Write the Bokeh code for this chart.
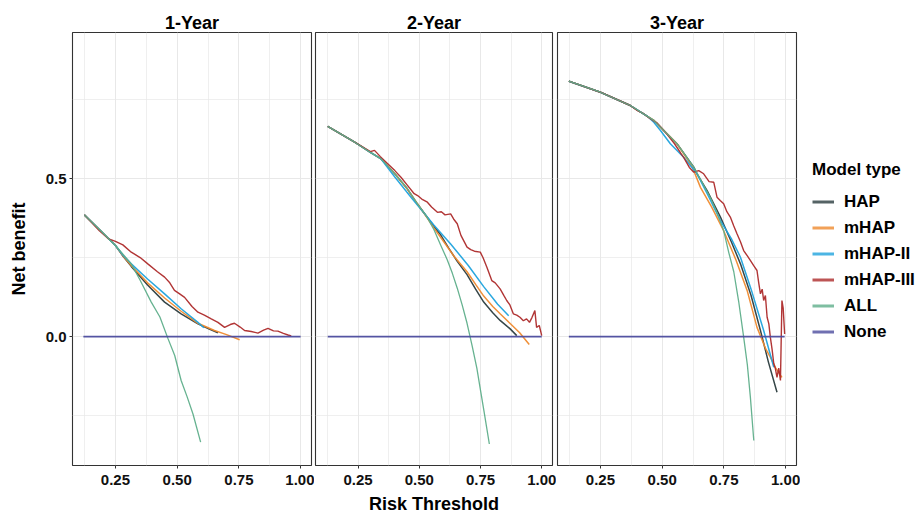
from bokeh.plotting import figure
from bokeh.models import Range1d, FixedTicker, NumeralTickFormatter, Legend, LegendItem
from bokeh.layouts import row
from bokeh.embed import file_html
from bokeh.resources import INLINE

# ---------------- data ----------------
PANEL_TITLES = ["1-Year", "2-Year", "3-Year"]
MODEL_NAMES = ["HAP", "mHAP", "mHAP-II", "mHAP-III", "ALL", "None"]
X_TICKS = [0.25, 0.5, 0.75, 1.0]
X_MINOR = [0.125, 0.375, 0.625, 0.875]
Y_TICKS = [0.0, 0.5]
Y_MINOR = [-0.25, 0.25, 0.75]

# 1-Year
Y1_HAP_X = [0.124, 0.19, 0.25, 0.28, 0.314, 0.38, 0.449, 0.516, 0.584, 0.63, 0.665]
Y1_HAP_Y = [0.385, 0.335, 0.288, 0.255, 0.222, 0.163, 0.109, 0.072, 0.04, 0.024, 0.012]
Y1_MHAP_X = [0.124, 0.19, 0.25, 0.28, 0.314, 0.38, 0.449, 0.516, 0.584, 0.651, 0.70, 0.753]
Y1_MHAP_Y = [0.385, 0.335, 0.288, 0.256, 0.225, 0.17, 0.122, 0.08, 0.042, 0.019, 0.006, -0.01]
Y1_MHAP2_X = [0.124, 0.19, 0.25, 0.28, 0.314, 0.38, 0.449, 0.516, 0.584, 0.608]
Y1_MHAP2_Y = [0.385, 0.335, 0.288, 0.258, 0.23, 0.182, 0.135, 0.088, 0.045, 0.028]
Y1_MHAP3_X = [0.124, 0.185, 0.22, 0.25, 0.28, 0.314, 0.35, 0.381, 0.42, 0.449, 0.47, 0.489,
              0.51, 0.53, 0.56, 0.584, 0.61, 0.638, 0.665, 0.692, 0.715, 0.732, 0.755, 0.773,
              0.80, 0.827, 0.85, 0.868, 0.89, 0.908, 0.93, 0.949, 0.962]
Y1_MHAP3_Y = [0.385, 0.335, 0.31, 0.301, 0.29, 0.267, 0.25, 0.23, 0.205, 0.188, 0.17, 0.146,
              0.135, 0.124, 0.095, 0.077, 0.068, 0.056, 0.045, 0.029, 0.038, 0.042, 0.03, 0.019,
              0.016, 0.011, 0.02, 0.026, 0.018, 0.017, 0.01, 0.005, 0.002]
Y1_ALL_X = [0.124, 0.19, 0.25, 0.314, 0.35, 0.395, 0.43, 0.462, 0.49, 0.516, 0.54, 0.564, 0.595]
Y1_ALL_Y = [0.385, 0.335, 0.288, 0.23, 0.178, 0.109, 0.062, -0.005, -0.06, -0.139, -0.19, -0.245, -0.334]
Y1_NONE_X = [0.12, 1.0]
Y1_NONE_Y = [0.0, 0.0]

# 2-Year
Y2_HAP_X = [0.126, 0.236, 0.30, 0.344, 0.40, 0.45, 0.492, 0.53, 0.56, 0.587, 0.62, 0.655, 0.695,
            0.73, 0.763, 0.80, 0.83, 0.87, 0.898]
Y2_HAP_Y = [0.665, 0.615, 0.583, 0.562, 0.515, 0.468, 0.42, 0.38, 0.348, 0.322, 0.28, 0.238, 0.196,
            0.15, 0.109, 0.075, 0.051, 0.025, 0.003]
Y2_MHAP_X = [0.126, 0.236, 0.30, 0.344, 0.40, 0.45, 0.492, 0.53, 0.56, 0.60, 0.641, 0.695, 0.73,
             0.763, 0.80, 0.83, 0.87, 0.91, 0.949]
Y2_MHAP_Y = [0.665, 0.615, 0.583, 0.562, 0.515, 0.468, 0.42, 0.378, 0.343, 0.3, 0.255, 0.205, 0.165,
             0.128, 0.095, 0.072, 0.042, 0.012, -0.025]
Y2_MHAP2_X = [0.126, 0.236, 0.30, 0.344, 0.40, 0.466, 0.52, 0.56, 0.628, 0.70, 0.763, 0.82, 0.865]
Y2_MHAP2_Y = [0.665, 0.615, 0.583, 0.562, 0.505, 0.441, 0.39, 0.352, 0.293, 0.225, 0.158, 0.102, 0.066]
Y2_MHAP3_X = [0.126, 0.236, 0.30, 0.317, 0.34, 0.371, 0.40, 0.425, 0.45, 0.479, 0.493, 0.51, 0.533,
              0.55, 0.574, 0.59, 0.605, 0.628, 0.64, 0.655, 0.67, 0.695, 0.71, 0.725, 0.749, 0.76,
              0.776, 0.796, 0.81, 0.83, 0.845, 0.857, 0.87, 0.884, 0.898, 0.911, 0.925, 0.938,
              0.95, 0.96, 0.972, 0.979, 0.99, 1.0]
Y2_MHAP3_Y = [0.665, 0.615, 0.585, 0.589, 0.57, 0.547, 0.525, 0.504, 0.48, 0.452, 0.446, 0.435, 0.425,
              0.41, 0.393, 0.395, 0.385, 0.388, 0.372, 0.357, 0.32, 0.283, 0.275, 0.27, 0.267, 0.25,
              0.219, 0.177, 0.17, 0.151, 0.13, 0.114, 0.1, 0.072, 0.068, 0.061, 0.05, 0.056,
              0.045, 0.06, 0.082, 0.029, 0.035, 0.003]
Y2_ALL_X = [0.126, 0.236, 0.30, 0.344, 0.40, 0.45, 0.492, 0.53, 0.56, 0.587, 0.614, 0.635, 0.655,
            0.675, 0.695, 0.716, 0.735, 0.75, 0.765, 0.786]
Y2_ALL_Y = [0.665, 0.615, 0.583, 0.562, 0.515, 0.47, 0.42, 0.38, 0.338, 0.29, 0.243, 0.2, 0.153,
            0.1, 0.042, -0.03, -0.1, -0.17, -0.24, -0.34]
Y2_NONE_X = [0.126, 1.0]
Y2_NONE_Y = [0.0, 0.0]

# 3-Year
Y3_HAP_X = [0.122, 0.25, 0.371, 0.466, 0.56, 0.628, 0.641, 0.682, 0.736, 0.78, 0.817, 0.86, 0.898,
            0.93, 0.965]
Y3_HAP_Y = [0.808, 0.773, 0.731, 0.684, 0.61, 0.536, 0.515, 0.462, 0.378, 0.3, 0.23, 0.13, 0.019,
            -0.08, -0.176]
Y3_MHAP_X = [0.122, 0.25, 0.371, 0.466, 0.56, 0.62, 0.655, 0.70, 0.749, 0.80, 0.844, 0.884, 0.92,
             0.938, 0.96, 0.985]
Y3_MHAP_Y = [0.808, 0.773, 0.731, 0.684, 0.61, 0.54, 0.472, 0.41, 0.335, 0.24, 0.146, 0.029, -0.04,
             -0.065, -0.1, -0.129]
Y3_MHAP2_X = [0.122, 0.25, 0.371, 0.44, 0.466, 0.493, 0.533, 0.587, 0.641, 0.69, 0.736, 0.78, 0.817,
              0.86, 0.911, 0.952]
Y3_MHAP2_Y = [0.808, 0.773, 0.731, 0.697, 0.678, 0.652, 0.61, 0.567, 0.515, 0.44, 0.367, 0.31, 0.251,
              0.15, 0.019, -0.097]
Y3_MHAP3_X = [0.122, 0.25, 0.371, 0.40, 0.425, 0.45, 0.48, 0.52, 0.55, 0.575, 0.587, 0.61, 0.628,
              0.648, 0.668, 0.69, 0.709, 0.722, 0.736, 0.749, 0.762, 0.776, 0.79, 0.803, 0.817,
              0.83, 0.845, 0.857, 0.87, 0.884, 0.891, 0.898, 0.905, 0.911, 0.918, 0.925, 0.932,
              0.938, 0.945, 0.952, 0.958, 0.965, 0.972, 0.979, 0.985, 0.99, 0.996]
Y3_MHAP3_Y = [0.808, 0.773, 0.731, 0.715, 0.705, 0.69, 0.675, 0.64, 0.61, 0.58, 0.567, 0.535, 0.52,
              0.525, 0.515, 0.49, 0.488, 0.441, 0.43, 0.42, 0.395, 0.378, 0.35, 0.325, 0.3,
              0.272, 0.255, 0.241, 0.225, 0.209, 0.17, 0.135, 0.15, 0.114, 0.13, 0.061, 0.04,
              -0.002, -0.04, -0.086, -0.1, -0.129, -0.1, -0.139, 0.114, 0.09, 0.008]
Y3_ALL_X = [0.122, 0.25, 0.371, 0.466, 0.56, 0.628, 0.695, 0.72, 0.749, 0.77, 0.79, 0.81, 0.83,
            0.845, 0.857, 0.871]
Y3_ALL_Y = [0.808, 0.773, 0.731, 0.684, 0.61, 0.536, 0.44, 0.396, 0.335, 0.265, 0.205, 0.11, -0.002,
            -0.09, -0.19, -0.329]
Y3_NONE_X = [0.122, 0.996]
Y3_NONE_Y = [0.0, 0.0]

# ---------------- styling ----------------
COLORS = ["#2b3c3e", "#ef8a2e", "#1fa3dd", "#ad2a2a", "#5eae8a", "#4c4c9e"]
WIDTHS = [1.5, 1.5, 1.5, 1.4, 1.3, 1.8]
FONT = "Liberation Sans"
GRID_COLOR = "#e8e8e8"
FRAME_COLOR = "#333333"
X0, X1 = 0.076, 1.044
YB, YT = -0.408, 0.962
H = 517

panels = [
    [(Y1_HAP_X, Y1_HAP_Y), (Y1_MHAP_X, Y1_MHAP_Y), (Y1_MHAP2_X, Y1_MHAP2_Y),
     (Y1_MHAP3_X, Y1_MHAP3_Y), (Y1_ALL_X, Y1_ALL_Y), (Y1_NONE_X, Y1_NONE_Y)],
    [(Y2_HAP_X, Y2_HAP_Y), (Y2_MHAP_X, Y2_MHAP_Y), (Y2_MHAP2_X, Y2_MHAP2_Y),
     (Y2_MHAP3_X, Y2_MHAP3_Y), (Y2_ALL_X, Y2_ALL_Y), (Y2_NONE_X, Y2_NONE_Y)],
    [(Y3_HAP_X, Y3_HAP_Y), (Y3_MHAP_X, Y3_MHAP_Y), (Y3_MHAP2_X, Y3_MHAP2_Y),
     (Y3_MHAP3_X, Y3_MHAP3_Y), (Y3_ALL_X, Y3_ALL_Y), (Y3_NONE_X, Y3_NONE_Y)],
]

layout_spec = [
    dict(width=314, left=72, right=3, yaxis=True, xlabel=None),
    dict(width=242, left=1, right=4, yaxis=False, xlabel="Risk Threshold"),
    dict(width=244, left=1, right=4, yaxis=False, xlabel=None),
]

figs = []
for i, (title, series, spec) in enumerate(zip(PANEL_TITLES, panels, layout_spec)):
    p = figure(width=spec["width"], height=H,
               x_range=Range1d(X0, X1), y_range=Range1d(YB, YT),
               output_backend="svg", toolbar_location=None,
               min_border_left=spec["left"], min_border_right=spec["right"],
               min_border_top=32, min_border_bottom=52)
    p.title.text = title
    p.title.align = "center"
    p.title.text_font = FONT
    p.title.text_font_size = "18px"
    p.title.text_font_style = "bold"
    p.title.text_color = "#000000"
    p.title.standoff = 0
    p.outline_line_color = FRAME_COLOR
    p.outline_line_width = 1.1
    p.background_fill_color = "white"
    p.border_fill_color = "white"

    xa = p.xaxis[0]
    xa.ticker = FixedTicker(ticks=X_TICKS, minor_ticks=X_MINOR)
    xa.formatter = NumeralTickFormatter(format="0.00")
    xa.axis_line_color = None
    xa.major_tick_line_color = FRAME_COLOR
    xa.major_tick_out = 3
    xa.major_tick_in = 0
    xa.minor_tick_line_color = None
    xa.major_label_text_font = FONT
    xa.major_label_text_font_size = "15px"
    xa.major_label_text_font_style = "bold"
    xa.major_label_text_color = "#111111"
    xa.major_label_standoff = 5
    if spec["xlabel"]:
        xa.axis_label = spec["xlabel"]
        xa.axis_label_text_font = FONT
        xa.axis_label_text_font_size = "18px"
        xa.axis_label_text_font_style = "bold"
        xa.axis_label_text_color = "#000000"
        xa.axis_label_standoff = 6

    p.xgrid.ticker = FixedTicker(ticks=X_TICKS, minor_ticks=X_MINOR)
    p.xgrid.grid_line_color = GRID_COLOR
    p.xgrid.minor_grid_line_color = GRID_COLOR
    p.xgrid.minor_grid_line_width = 0.7

    ya = p.yaxis[0]
    ya.ticker = FixedTicker(ticks=Y_TICKS, minor_ticks=Y_MINOR)
    ya.formatter = NumeralTickFormatter(format="0.0")
    p.ygrid.ticker = FixedTicker(ticks=Y_TICKS, minor_ticks=Y_MINOR)
    p.ygrid.grid_line_color = GRID_COLOR
    p.ygrid.minor_grid_line_color = GRID_COLOR
    p.ygrid.minor_grid_line_width = 0.7
    if spec["yaxis"]:
        ya.axis_line_color = None
        ya.major_tick_line_color = FRAME_COLOR
        ya.major_tick_out = 3
        ya.major_tick_in = 0
        ya.minor_tick_line_color = None
        ya.major_label_text_font = FONT
        ya.major_label_text_font_size = "15px"
        ya.major_label_text_font_style = "bold"
        ya.major_label_text_color = "#111111"
        ya.major_label_standoff = 2
        ya.axis_label = "Net benefit"
        ya.axis_label_text_font = FONT
        ya.axis_label_text_font_size = "18px"
        ya.axis_label_text_font_style = "bold"
        ya.axis_label_text_color = "#000000"
        ya.axis_label_standoff = 14
    else:
        ya.visible = False

    for (xs, ys), color, lw in zip(series, COLORS, WIDTHS):
        p.line(xs, ys, line_color=color, line_width=lw, line_alpha=0.95)
    figs.append(p)

# legend panel: its ranges lie away from the data, so only the legend keys show
lg = figure(width=120, height=H, output_backend="svg", toolbar_location=None,
            x_range=Range1d(2.0, 3.0), y_range=Range1d(2.0, 3.0),
            x_axis_location=None, y_axis_location=None,
            min_border_left=0, min_border_right=0, min_border_top=32, min_border_bottom=52)
lg.outline_line_color = None
lg.xgrid.visible = False
lg.ygrid.visible = False
lg.border_fill_color = "white"
lg.background_fill_color = "white"
items = []
for name, (xs, ys), color in zip(MODEL_NAMES, panels[2], COLORS):
    r = lg.line(xs, ys, line_color=color, line_width=3, line_alpha=0.8)
    items.append(LegendItem(label=name, renderers=[r]))
legend = Legend(items=items, title="Model type", location=(12, 122))
legend.title_text_font = FONT
legend.title_text_font_size = "17px"
legend.title_text_font_style = "bold"
legend.title_text_color = "#000000"
legend.title_standoff = 10
legend.label_text_font = FONT
legend.label_text_font_size = "17px"
legend.label_text_font_style = "bold"
legend.label_text_color = "#000000"
legend.glyph_width = 22
legend.glyph_height = 23
legend.label_height = 23
legend.spacing = 3
legend.label_standoff = 10
legend.margin = 0
legend.padding = 5
legend.border_line_color = None
legend.background_fill_alpha = 0
lg.add_layout(legend)
figs.append(lg)

layout = row(*figs)
layout.spacing = 0
open("out.html", "w").write(file_html(layout, INLINE))
